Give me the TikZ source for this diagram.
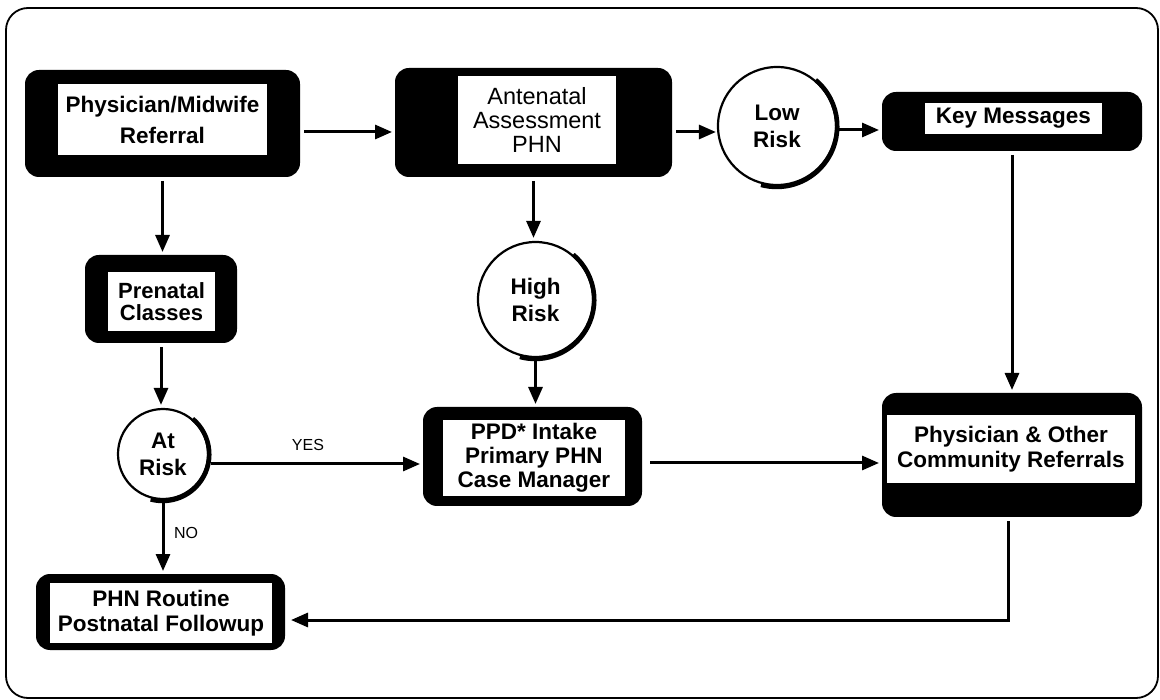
\documentclass[tikz,border=0pt]{standalone}
\usepackage{fontspec}
\setmainfont{Liberation Sans}
\usetikzlibrary{arrows.meta}
\tikzset{every picture/.style={line width=0.75pt}}
\newcommand{\boxfont}{\fontsize{22.5}{25}\selectfont\bfseries}
\tikzset{
  outbox/.style={fill=black, rounded corners=14pt, inner sep=0pt, outer sep=0pt},
  inbox/.style={fill=white, inner sep=0pt, align=center, font=\boxfont},
  riskcircle/.style={circle, draw, line width=2.2pt, fill=white, inner sep=0pt, align=center, font=\boxfont},
  rimshadow/.style={line width=4.5pt},
  flowarrow/.style={line width=3pt, -{Triangle[length=17pt,width=14pt]}, shorten <=4pt, shorten >=3pt},
  answer/.style={font=\fontsize{16}{18}\selectfont}
}

\begin{document}
\begin{tikzpicture}[x=1pt,y=-1pt]
\useasboundingbox (0,0) rectangle (1160,700);

%Shape: Frame
\draw [line width=1.8pt, rounded corners=22pt] (6,8) rectangle (1158,698);

%Shape: Boxes
\node [outbox, minimum width=275, minimum height=107] (ref) at (162.5,123.5) {};
\node [inbox, minimum width=209, minimum height=71] (reftext) at (162.5,119.5) {Physician/Midwife\\[6pt]Referral};

\node [outbox, minimum width=277, minimum height=109] (ante) at (533.5,122.5) {};
\node [inbox, minimum width=158, minimum height=88, font={\fontsize{23.5}{24}\selectfont}] (antetext) at (537,120) {Antenatal\\Assessment\\PHN};

\node [outbox, minimum width=260, minimum height=59] (key) at (1012,121.5) {};
\node [inbox, minimum width=177, minimum height=31] (keytext) at (1013.5,118.5) {Key Messages};

\node [outbox, minimum width=152, minimum height=88] (prenatal) at (161,299) {};
\node [inbox, minimum width=107, minimum height=59, font={\fontsize{22}{22}\selectfont\bfseries}] (prenataltext) at (161.5,301.5) {Prenatal\\Classes};

\node [outbox, minimum width=219, minimum height=99] (ppd) at (532.5,456.5) {};
\node [inbox, minimum width=182, minimum height=76, font={\fontsize{22.5}{24}\selectfont\bfseries}] (ppdtext) at (534,458) {PPD* Intake\\Primary PHN\\Case Manager};

\node [outbox, minimum width=260, minimum height=124] (comm) at (1012,455) {};
\node [inbox, minimum width=248, minimum height=68] (commtext) at (1011,449) {Physician \& Other\\Community Referrals};

\node [outbox, minimum width=249, minimum height=76] (routine) at (160.5,612) {};
\node [inbox, minimum width=222, minimum height=60] (routinetext) at (161,613) {PHN Routine\\Postnatal Followup};

%Shape: Circles
\node [riskcircle, minimum size=118] (lowrisk) at (777,126) {Low\\[2pt]Risk};
\draw [rimshadow] (lowrisk.50) arc [start angle=-50, end angle=105, radius=60.6];

\node [riskcircle, minimum size=115] (highrisk) at (535.5,299.5) {High\\[2pt]Risk};
\draw [rimshadow] (highrisk.50) arc [start angle=-50, end angle=105, radius=59.1];

\node [riskcircle, minimum size=90] (atrisk) at (163,454) {At\\[2pt]Risk};
\draw [rimshadow] (atrisk.50) arc [start angle=-50, end angle=105, radius=46.6];

%Straight Lines
\coordinate (reffrom) at ([yshift=-8.5pt]ref.east);
\draw [flowarrow] (reffrom) -- (reffrom -| ante.west);
\coordinate (antefrom) at ([yshift=-9.5pt]ante.east);
\draw [flowarrow, shorten >=1pt] (antefrom) -- (antefrom -| lowrisk.west);
\coordinate (lowfrom) at ([yshift=-4pt]lowrisk.east);
\draw [flowarrow, shorten <=1pt] (lowfrom) -- (lowfrom -| key.west);

\draw [flowarrow] (ref.south) -- (ref.south |- prenatal.north);
\draw [flowarrow] (prenatal.south) -- (prenatal.south |- atrisk.north);
\draw [flowarrow] (ante.south) -- (ante.south |- highrisk.north);
\draw [flowarrow, shorten <=1pt] (highrisk.south) -- (highrisk.south |- ppd.north);
\draw [flowarrow] (key.south) -- (key.south |- comm.north);

\coordinate (yesfrom) at ([yshift=-10pt]atrisk.east);
\draw [flowarrow, shorten <=2pt] (yesfrom) -- (yesfrom -| ppd.west);
\coordinate (ppdfrom) at ([yshift=-6.5pt]ppd.east);
\draw [flowarrow, shorten <=8pt] (ppdfrom) -- (ppdfrom -| comm.west);

\draw [flowarrow, shorten <=1pt] (atrisk.south) -- (atrisk.south |- routine.north);
\draw [flowarrow, shorten >=6pt] ([xshift=-4pt]comm.south) |- ([yshift=-8pt]routine.east);

% Text Node
\node [answer] (yes) at (308,445) {YES};
% Text Node
\node [answer] (no) at (186,533) {NO};

\end{tikzpicture}
\end{document}
